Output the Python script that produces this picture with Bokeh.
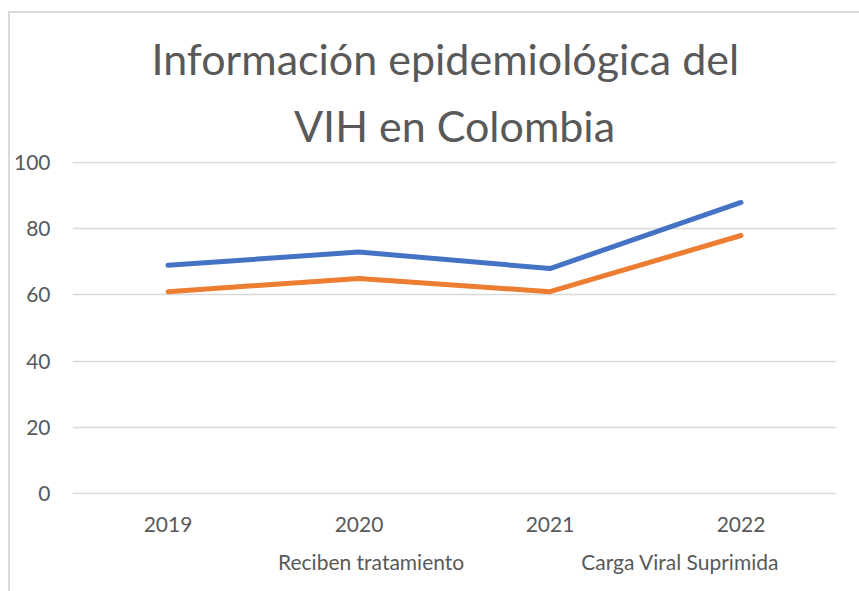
from bokeh.plotting import figure
from bokeh.models import Title, Legend, LegendItem, FixedTicker
from bokeh.layouts import column
from bokeh.embed import file_html
from bokeh.resources import INLINE

years = ["2019", "2020", "2021", "2022"]
reciben = [69, 73, 68, 88]
carga = [61, 65, 61, 78]
y_ticks = [0, 20, 40, 60, 80, 100]
title_lines = ["Información epidemiológica del", "VIH en Colombia"]
series_names = ["Reciben tratamiento", "Carga Viral Suprimida"]

TEXT = "#595959"
GRID = "#d9d9d9"
FONT = "Lato"
BLUE = "#4472C4"
ORANGE = "#ED7D31"

p = figure(x_range=years, y_range=(-0.4, 100.4), frame_width=764, frame_height=333,
           output_backend="svg", toolbar_location=None,
           min_border_left=61, min_border_right=24, min_border_top=148, min_border_bottom=0)
p.outline_line_color = None
p.background_fill_color = "white"
p.border_fill_color = "white"

p.xgrid.grid_line_color = None
p.ygrid.grid_line_color = GRID
p.ygrid.grid_line_width = 1.5
p.yaxis.ticker = FixedTicker(ticks=y_ticks)
for ax in (p.xaxis, p.yaxis):
    ax.axis_line_color = None
    ax.major_tick_line_color = None
    ax.minor_tick_line_color = None
    ax.major_tick_out = 0
    ax.major_tick_in = 0
    ax.minor_tick_out = 0
    ax.major_label_text_color = TEXT
    ax.major_label_text_font = FONT
    ax.major_label_text_font_size = "21px"
p.yaxis.major_label_standoff = 22
p.xaxis.major_label_standoff = 22

p.line(years, reciben, line_color=BLUE, line_width=5, line_cap="round", line_join="round")
p.line(years, carga, line_color=ORANGE, line_width=5, line_cap="round", line_join="round")

p.add_layout(Title(text=title_lines[1], align="center", standoff=22,
                   text_font=FONT, text_font_size="43px", text_color=TEXT,
                   text_font_style="normal"), "above")
p.add_layout(Title(text=title_lines[0], align="left", offset=79, standoff=5,
                   text_font=FONT, text_font_size="43px", text_color=TEXT,
                   text_font_style="normal"), "above")

# legend strip below the chart
p2 = figure(width=849, height=57, x_range=(0, 1), y_range=(0, 1),
            x_axis_type=None, y_axis_type=None, output_backend="svg",
            toolbar_location=None, min_border=0)
p2.outline_line_color = None
p2.background_fill_color = "white"
p2.border_fill_color = "white"
k1 = p2.line(x=[], y=[], line_color=BLUE, line_width=5, line_cap="round")
k2 = p2.line(x=[], y=[], line_color=ORANGE, line_width=5, line_cap="round")
legend = Legend(items=[LegendItem(label=series_names[0], renderers=[k1]),
                       LegendItem(label=series_names[1], renderers=[k2])],
                orientation="horizontal", location=(148, 17),
                glyph_width=55, glyph_height=20, label_standoff=3, spacing=59,
                label_text_font=FONT, label_text_font_size="21px", label_text_color=TEXT,
                border_line_color=None, background_fill_alpha=0, padding=0, margin=0)
p2.add_layout(legend, "center")

layout = column(p, p2, spacing=0)
layout.styles = {"border-top": "2px solid #d9d9d9", "border-left": "2px solid #d9d9d9",
                 "margin": "11px 0 0 8px"}

open("out.html", "w").write(file_html(layout, INLINE))
